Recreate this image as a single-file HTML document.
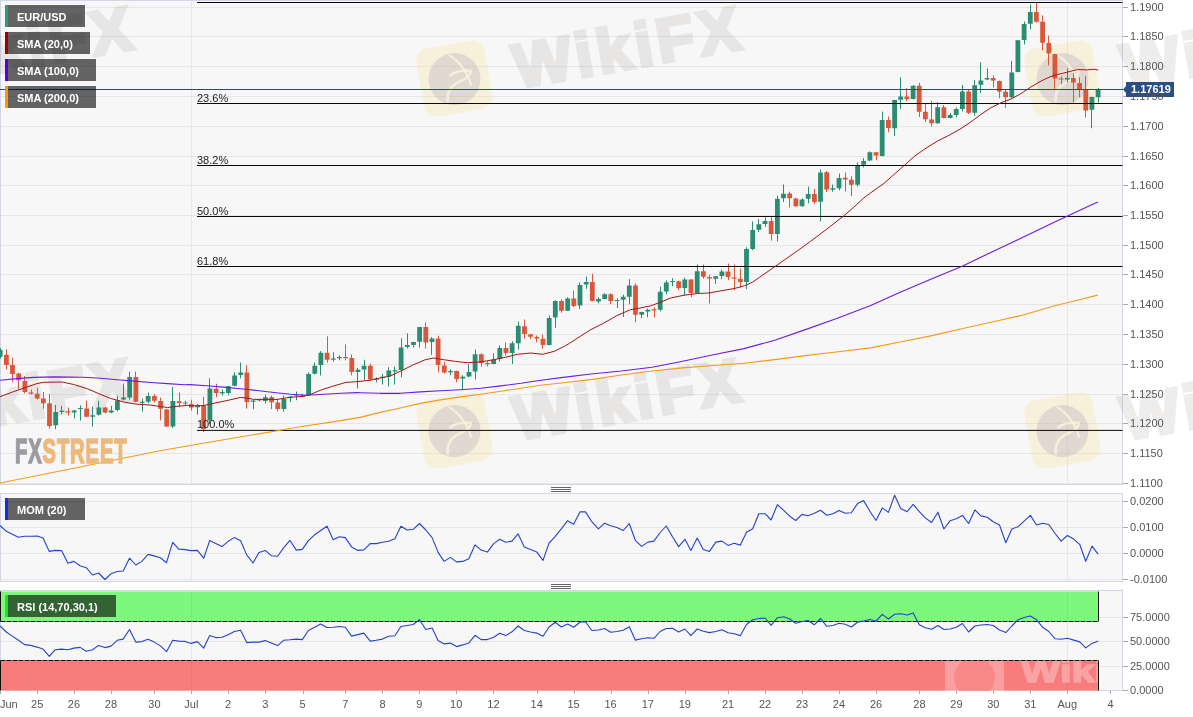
<!DOCTYPE html><html><head><meta charset="utf-8"><title>EUR/USD</title><style>
html,body{margin:0;padding:0;background:#fff}
body{width:1193px;height:717px;overflow:hidden;position:relative;font-family:"Liberation Sans",Arial,sans-serif}
.ax{position:absolute;left:1130px;font-size:11px;line-height:12px;color:#555;white-space:nowrap}
.dt{position:absolute;top:698px;font-size:11px;line-height:12px;color:#555;white-space:nowrap;transform:translateX(-50%)}
.fb{position:absolute;left:197px;font-size:11px;line-height:12px;color:#222;white-space:nowrap}
.lb{position:absolute;left:5px;height:22px;background:rgba(0,0,0,0.6);color:#fff;font-weight:bold;font-size:11px;line-height:22px;white-space:nowrap;box-sizing:border-box;padding-left:9px;padding-top:1px;border-left:3px solid #000}
.wm{position:absolute;width:0;height:0;transform:rotate(-10deg);white-space:nowrap;pointer-events:none}
.wm .sq{position:absolute;left:-35px;top:-35px;width:69px;height:69px;border-radius:12px;background:rgba(248,222,140,0.26)}
.wm .sq svg{position:absolute;left:0;top:0}
.wm .tx{position:absolute;left:60px;top:-41px;font-weight:bold;font-size:62px;line-height:80px;color:#8c7878;-webkit-text-stroke:4px #8c7878;opacity:0.135;letter-spacing:4.5px}

</style></head><body>
<svg width="1193" height="717" viewBox="0 0 1193 717" style="position:absolute;left:0;top:0">
<rect x="0.5" y="0.5" width="1122.0" height="484.0" fill="#f7f7f7" stroke="#d3d6e5" stroke-width="1"/>
<rect x="0.5" y="493.5" width="1122.0" height="88.0" fill="#f7f7f7" stroke="#d3d6e5" stroke-width="1"/>
<rect x="0.5" y="590.5" width="1122.0" height="100.0" fill="#f7f7f7" stroke="#d3d6e5" stroke-width="1"/>
<path d="M1 7.5H1122 M1 36.5H1122 M1 66.5H1122 M1 96.5H1122 M1 126.5H1122 M1 156.5H1122 M1 185.5H1122 M1 215.5H1122 M1 245.5H1122 M1 274.5H1122 M1 304.5H1122 M1 334.5H1122 M1 364.5H1122 M1 394.5H1122 M1 423.5H1122 M1 453.5H1122 M1 483.5H1122 M1 501.5H1122 M1 527.5H1122 M1 553.5H1122 M1 579.5H1122 M1 617.5H1122 M1 641.5H1122 M1 666.5H1122 M191.5 1.0V484.0 M191.5 494.0V581.0 M191.5 591.0V690.0 M1067.5 1.0V484.0 M1067.5 494.0V581.0 M1067.5 591.0V690.0" stroke="#e7e7e7" stroke-width="1" fill="none"/>
<path d="M1123 7.5h5 M1123 36.5h5 M1123 66.5h5 M1123 96.5h5 M1123 126.5h5 M1123 156.5h5 M1123 185.5h5 M1123 215.5h5 M1123 245.5h5 M1123 274.5h5 M1123 304.5h5 M1123 334.5h5 M1123 364.5h5 M1123 394.5h5 M1123 423.5h5 M1123 453.5h5 M1123 483.5h5 M1123 501.5h5 M1123 527.5h5 M1123 553.5h5 M1123 579.5h5 M1123 617.5h5 M1123 641.5h5 M1123 666.5h5 M1123 690.5h5 M0.5 691v3 M37.5 691v3 M74.5 691v3 M111.5 691v3 M154.5 691v3 M191.5 691v3 M228.5 691v3 M265.5 691v3 M303.5 691v3 M345.5 691v3 M382.5 691v3 M419.5 691v3 M456.5 691v3 M493.5 691v3 M537.5 691v3 M574.5 691v3 M611.5 691v3 M648.5 691v3 M685.5 691v3 M728.5 691v3 M765.5 691v3 M802.5 691v3 M839.5 691v3 M876.5 691v3 M919.5 691v3 M956.5 691v3 M993.5 691v3 M1030.5 691v3 M1067.5 691v3 M1110.5 691v3" stroke="#a8a8a8" stroke-width="1" fill="none"/>
</svg>
<div class="wm" style="left:-153px;top:78.5px"><div class="sq"><svg width="69" height="69" viewBox="0 0 69 69"><circle cx="34.5" cy="35" r="26" fill="rgba(150,135,175,0.22)"/><path d="M33 10Q47 22 50 44" stroke="rgba(250,242,220,0.85)" stroke-width="2.2" fill="none"/><path d="M24 57Q24 42 40 38Q50 36 52 30Q40 26 30 31" stroke="rgba(250,242,220,0.8)" stroke-width="2.6" fill="none"/></svg></div><div class="tx">WikiFX</div></div>
<div class="wm" style="left:-153px;top:430.5px"><div class="sq"><svg width="69" height="69" viewBox="0 0 69 69"><circle cx="34.5" cy="35" r="26" fill="rgba(150,135,175,0.22)"/><path d="M33 10Q47 22 50 44" stroke="rgba(250,242,220,0.85)" stroke-width="2.2" fill="none"/><path d="M24 57Q24 42 40 38Q50 36 52 30Q40 26 30 31" stroke="rgba(250,242,220,0.8)" stroke-width="2.6" fill="none"/></svg></div><div class="tx">WikiFX</div></div>
<div class="wm" style="left:455px;top:78.5px"><div class="sq"><svg width="69" height="69" viewBox="0 0 69 69"><circle cx="34.5" cy="35" r="26" fill="rgba(150,135,175,0.22)"/><path d="M33 10Q47 22 50 44" stroke="rgba(250,242,220,0.85)" stroke-width="2.2" fill="none"/><path d="M24 57Q24 42 40 38Q50 36 52 30Q40 26 30 31" stroke="rgba(250,242,220,0.8)" stroke-width="2.6" fill="none"/></svg></div><div class="tx">WikiFX</div></div>
<div class="wm" style="left:455px;top:430.5px"><div class="sq"><svg width="69" height="69" viewBox="0 0 69 69"><circle cx="34.5" cy="35" r="26" fill="rgba(150,135,175,0.22)"/><path d="M33 10Q47 22 50 44" stroke="rgba(250,242,220,0.85)" stroke-width="2.2" fill="none"/><path d="M24 57Q24 42 40 38Q50 36 52 30Q40 26 30 31" stroke="rgba(250,242,220,0.8)" stroke-width="2.6" fill="none"/></svg></div><div class="tx">WikiFX</div></div>
<div class="wm" style="left:1063px;top:78.5px"><div class="sq"><svg width="69" height="69" viewBox="0 0 69 69"><circle cx="34.5" cy="35" r="26" fill="rgba(150,135,175,0.22)"/><path d="M33 10Q47 22 50 44" stroke="rgba(250,242,220,0.85)" stroke-width="2.2" fill="none"/><path d="M24 57Q24 42 40 38Q50 36 52 30Q40 26 30 31" stroke="rgba(250,242,220,0.8)" stroke-width="2.6" fill="none"/></svg></div><div class="tx">WikiFX</div></div>
<div class="wm" style="left:1063px;top:430.5px"><div class="sq"><svg width="69" height="69" viewBox="0 0 69 69"><circle cx="34.5" cy="35" r="26" fill="rgba(150,135,175,0.22)"/><path d="M33 10Q47 22 50 44" stroke="rgba(250,242,220,0.85)" stroke-width="2.2" fill="none"/><path d="M24 57Q24 42 40 38Q50 36 52 30Q40 26 30 31" stroke="rgba(250,242,220,0.8)" stroke-width="2.6" fill="none"/></svg></div><div class="tx">WikiFX</div></div>
<svg width="1193" height="717" viewBox="0 0 1193 717" style="position:absolute;left:0;top:0">
<rect x="0.5" y="591.5" width="1098" height="30" fill="#7df87d" stroke="none"/>
<rect x="0.5" y="660.5" width="1098" height="30" fill="#f87c7c" stroke="none"/>
<path d="M0.5 591.5V621.5M1098.5 591.5V621.5M0.5 660.5V690.5M1098.5 660.5V690.5" stroke="#111" stroke-width="1" fill="none"/>
<path d="M0.5 621.5H1098.5M0.5 660.5H1098.5" stroke="#111" stroke-width="1.2" stroke-dasharray="5 1" fill="none"/>
<path d="M191.5 592V621M1067.5 592V621" stroke="#74ea74" stroke-width="1" fill="none"/>
<path d="M191.5 661V690M1067.5 661V690" stroke="#ee7575" stroke-width="1" fill="none"/>
<path d="M0.5 348.1V358.5 M55.5 404.9V429.2 M61.5 405.8V414.3 M74.5 410.1V418.5 M80.5 405.4V420.5 M92.5 406.8V426.7 M98.5 400.7V415.5 M111.5 405.8V413.3 M117.5 395.7V411.3 M123.5 383.6V400.4 M129.5 371.6V399.6 M142.5 398.7V411.6 M148.5 392.5V403.3 M172.5 387.0V428.1 M185.5 400.9V404.9 M197.5 403.9V414.8 M209.5 378.4V424.0 M222.5 389.6V395.5 M228.5 385.8V395.2 M234.5 372.4V386.3 M240.5 362.5V378.4 M253.5 400.2V409.2 M265.5 394.7V403.4 M283.5 395.5V411.4 M290.5 396.3V402.2 M296.5 391.6V400.2 M308.5 372.4V395.8 M314.5 362.5V374.5 M320.5 351.1V375.4 M333.5 352.2V361.6 M339.5 355.3V360.3 M357.5 367.8V388.5 M364.5 359.8V380.1 M376.5 377.4V382.4 M382.5 373.9V384.5 M388.5 367.2V386.5 M394.5 366.4V384.5 M401.5 338.4V377.3 M407.5 333.4V348.5 M413.5 341.8V347.5 M419.5 327.0V347.5 M431.5 337.1V354.7 M450.5 369.2V375.3 M462.5 375.3V390.0 M468.5 364.2V377.3 M475.5 349.6V379.5 M493.5 353.3V364.2 M499.5 345.4V361.4 M512.5 341.2V363.9 M518.5 321.5V349.6 M549.5 315.3V345.4 M555.5 300.2V327.8 M567.5 297.3V311.1 M579.5 282.4V309.2 M586.5 276.6V288.8 M598.5 297.2V303.5 M604.5 293.3V299.2 M617.5 298.3V308.1 M623.5 294.7V317.0 M629.5 279.2V304.2 M641.5 311.8V318.1 M647.5 308.6V317.3 M660.5 286.8V311.4 M666.5 280.4V294.3 M672.5 278.2V286.3 M684.5 277.6V295.5 M697.5 264.5V293.5 M715.5 275.9V283.8 M721.5 269.5V279.2 M746.5 247.2V289.1 M752.5 221.4V250.2 M758.5 219.2V232.1 M765.5 217.5V226.9 M777.5 195.7V241.5 M783.5 184.5V202.1 M802.5 198.4V206.8 M808.5 186.7V203.3 M820.5 169.4V221.4 M832.5 184.5V191.7 M839.5 173.6V190.4 M857.5 162.7V186.5 M863.5 158.1V167.4 M869.5 151.4V161.0 M882.5 111.7V156.5 M894.5 99.8V136.0 M900.5 77.3V109.0 M913.5 85.2V99.5 M937.5 102.0V123.8 M950.5 112.9V118.4 M956.5 107.5V117.1 M962.5 85.0V111.5 M974.5 80.1V115.7 M980.5 62.4V93.0 M987.5 68.4V80.1 M1011.5 60.9V98.6 M1017.5 39.9V72.4 M1024.5 21.5V44.4 M1030.5 4.5V29.3 M1067.5 68.4V82.5 M1091.5 96.7V128.2 M1098.5 88.0V102.6" stroke="#2a8c73" stroke-width="1" fill="none"/>
<path d="M6.5 349.3V369.4 M12.5 357.7V382.0 M18.5 372.7V388.7 M24.5 376.1V393.4 M31.5 389.5V394.5 M37.5 387.8V399.6 M43.5 392.0V408.8 M49.5 393.7V428.6 M68.5 407.6V415.5 M86.5 400.7V417.2 M105.5 406.8V413.3 M135.5 371.6V402.4 M154.5 394.2V402.4 M160.5 397.6V420.5 M166.5 408.8V426.9 M179.5 392.5V407.1 M191.5 399.7V410.6 M203.5 396.8V432.2 M216.5 383.8V397.2 M246.5 365.3V408.6 M259.5 398.9V401.4 M271.5 395.5V409.2 M277.5 398.9V411.4 M302.5 393.8V397.2 M327.5 336.3V362.5 M345.5 344.4V360.3 M351.5 354.4V375.4 M370.5 363.6V380.4 M425.5 322.5V348.5 M438.5 335.7V372.3 M444.5 361.9V373.6 M456.5 370.6V382.3 M481.5 353.3V366.7 M487.5 361.4V366.4 M505.5 342.4V355.5 M524.5 319.5V338.7 M530.5 334.0V339.1 M536.5 335.4V342.4 M542.5 334.5V348.8 M561.5 299.3V312.7 M573.5 290.5V307.2 M592.5 273.7V301.4 M610.5 293.3V304.2 M635.5 283.3V322.3 M654.5 307.2V317.3 M678.5 280.7V290.1 M691.5 279.2V297.2 M703.5 264.5V278.7 M709.5 274.5V303.5 M728.5 263.6V280.1 M734.5 264.5V290.1 M740.5 268.7V287.5 M771.5 217.2V240.6 M789.5 191.7V207.5 M795.5 197.6V206.8 M814.5 188.7V204.1 M826.5 171.1V192.0 M845.5 172.4V191.2 M851.5 176.1V196.2 M876.5 151.9V160.3 M888.5 116.7V132.1 M906.5 88.2V101.1 M919.5 82.7V117.1 M925.5 103.3V122.1 M931.5 100.8V126.3 M943.5 105.0V118.4 M968.5 89.2V114.0 M993.5 75.4V87.5 M999.5 80.5V98.1 M1005.5 88.9V107.8 M1036.5 3.0V22.6 M1042.5 15.4V50.3 M1048.5 35.5V65.4 M1054.5 53.6V88.9 M1061.5 76.3V84.2 M1073.5 73.3V102.6 M1079.5 77.5V97.2 M1085.5 75.8V117.4" stroke="#d9573b" stroke-width="1" fill="none"/>
<path d="M-2.2 350.1h4.8V356.8h-4.8z M53.3 412.1h4.8V425.2h-4.8z M59.5 410.7h4.8V411.9h-4.8z M71.8 410.5h4.8V412.5h-4.8z M78.0 407.9h4.8V409.1h-4.8z M90.3 415.2h4.8V416.8h-4.8z M96.5 407.5h4.8V414.7h-4.8z M108.8 410.5h4.8V412.6h-4.8z M115.0 400.4h4.8V410.1h-4.8z M121.2 397.6h4.8V399.6h-4.8z M127.3 376.9h4.8V397.6h-4.8z M139.7 401.7h4.8V402.9h-4.8z M145.8 395.9h4.8V401.8h-4.8z M170.5 400.9h4.8V426.4h-4.8z M182.8 402.4h4.8V403.6h-4.8z M195.2 405.2h4.8V407.2h-4.8z M207.5 388.5h4.8V420.6h-4.8z M219.8 392.0h4.8V393.2h-4.8z M226.0 386.3h4.8V393.0h-4.8z M232.2 375.4h4.8V385.8h-4.8z M238.4 372.4h4.8V375.0h-4.8z M250.7 400.5h4.8V401.7h-4.8z M263.0 397.2h4.8V400.9h-4.8z M281.5 398.9h4.8V408.9h-4.8z M287.7 396.7h4.8V397.9h-4.8z M293.9 394.3h4.8V395.5h-4.8z M306.2 374.0h4.8V395.2h-4.8z M312.4 365.8h4.8V373.7h-4.8z M318.5 352.7h4.8V365.0h-4.8z M330.9 358.6h4.8V359.8h-4.8z M337.0 356.9h4.8V358.3h-4.8z M355.5 369.8h4.8V372.0h-4.8z M361.7 365.7h4.8V369.5h-4.8z M374.0 378.6h4.8V379.8h-4.8z M380.2 376.7h4.8V377.9h-4.8z M386.4 370.6h4.8V376.5h-4.8z M392.6 370.2h4.8V371.4h-4.8z M398.7 347.5h4.8V370.1h-4.8z M404.9 345.1h4.8V347.1h-4.8z M411.1 342.1h4.8V344.9h-4.8z M417.2 327.0h4.8V341.8h-4.8z M429.6 338.4h4.8V342.1h-4.8z M448.1 370.9h4.8V372.3h-4.8z M460.4 376.8h4.8V378.6h-4.8z M466.6 371.9h4.8V376.5h-4.8z M472.7 354.2h4.8V371.4h-4.8z M491.2 359.4h4.8V363.9h-4.8z M497.4 348.0h4.8V358.9h-4.8z M509.7 343.3h4.8V353.0h-4.8z M515.9 325.8h4.8V343.3h-4.8z M546.8 318.1h4.8V345.1h-4.8z M552.9 301.0h4.8V317.4h-4.8z M565.3 298.5h4.8V310.7h-4.8z M577.6 285.1h4.8V305.6h-4.8z M583.8 282.1h4.8V284.6h-4.8z M596.1 298.9h4.8V301.4h-4.8z M602.3 294.3h4.8V298.9h-4.8z M614.6 299.9h4.8V301.1h-4.8z M620.8 296.8h4.8V299.7h-4.8z M626.9 285.4h4.8V296.7h-4.8z M639.3 311.9h4.8V314.8h-4.8z M645.4 309.7h4.8V311.4h-4.8z M657.8 291.8h4.8V309.7h-4.8z M663.9 282.4h4.8V291.6h-4.8z M670.1 280.9h4.8V282.1h-4.8z M682.4 279.6h4.8V288.0h-4.8z M694.8 271.2h4.8V293.0h-4.8z M713.3 276.2h4.8V278.7h-4.8z M719.5 271.5h4.8V275.9h-4.8z M744.1 248.9h4.8V282.1h-4.8z M750.3 230.1h4.8V248.9h-4.8z M756.5 224.2h4.8V229.8h-4.8z M762.6 221.0h4.8V223.9h-4.8z M775.0 198.7h4.8V233.9h-4.8z M781.1 193.7h4.8V198.2h-4.8z M799.6 199.6h4.8V206.3h-4.8z M805.8 194.0h4.8V198.7h-4.8z M818.1 172.4h4.8V201.8h-4.8z M830.5 188.3h4.8V189.8h-4.8z M836.6 178.1h4.8V188.2h-4.8z M855.2 165.5h4.8V184.8h-4.8z M861.3 161.0h4.8V164.8h-4.8z M867.5 152.3h4.8V160.6h-4.8z M879.8 120.1h4.8V156.0h-4.8z M892.2 100.1h4.8V128.3h-4.8z M898.3 96.4h4.8V99.8h-4.8z M910.7 85.7h4.8V99.0h-4.8z M935.3 107.3h4.8V123.3h-4.8z M947.7 115.0h4.8V117.9h-4.8z M953.8 109.0h4.8V114.9h-4.8z M960.0 91.4h4.8V109.0h-4.8z M972.3 85.2h4.8V112.7h-4.8z M978.5 80.5h4.8V84.7h-4.8z M984.7 78.0h4.8V79.6h-4.8z M1009.4 72.4h4.8V97.2h-4.8z M1015.5 40.2h4.8V72.1h-4.8z M1021.7 24.0h4.8V39.9h-4.8z M1027.9 12.1h4.8V23.8h-4.8z M1064.9 78.0h4.8V79.6h-4.8z M1089.5 96.9h4.8V109.8h-4.8z M1095.7 89.7h4.8V97.2h-4.8z" fill="#2a8c73"/>
<path d="M4.0 354.8h4.8V364.9h-4.8z M10.1 364.9h4.8V373.9h-4.8z M16.3 373.6h4.8V380.3h-4.8z M22.5 381.1h4.8V392.0h-4.8z M28.6 392.4h4.8V393.7h-4.8z M34.8 393.7h4.8V398.4h-4.8z M41.0 398.4h4.8V403.3h-4.8z M47.1 403.3h4.8V425.9h-4.8z M65.6 411.3h4.8V412.5h-4.8z M84.2 408.5h4.8V416.8h-4.8z M102.7 407.6h4.8V412.6h-4.8z M133.5 376.9h4.8V401.8h-4.8z M152.0 395.9h4.8V400.7h-4.8z M158.2 400.9h4.8V408.8h-4.8z M164.3 409.6h4.8V426.4h-4.8z M176.7 401.2h4.8V402.9h-4.8z M189.0 403.9h4.8V407.6h-4.8z M201.3 405.6h4.8V429.2h-4.8z M213.7 388.8h4.8V393.0h-4.8z M244.5 372.4h4.8V401.9h-4.8z M256.9 399.3h4.8V400.5h-4.8z M269.2 397.2h4.8V402.2h-4.8z M275.4 402.5h4.8V408.9h-4.8z M300.0 395.2h4.8V396.5h-4.8z M324.7 352.7h4.8V359.8h-4.8z M343.2 356.9h4.8V358.3h-4.8z M349.4 358.1h4.8V372.0h-4.8z M367.9 365.7h4.8V379.6h-4.8z M423.4 327.0h4.8V342.4h-4.8z M435.7 338.4h4.8V365.1h-4.8z M441.9 365.6h4.8V372.6h-4.8z M454.2 371.1h4.8V379.0h-4.8z M478.9 354.2h4.8V363.0h-4.8z M485.1 363.1h4.8V364.3h-4.8z M503.6 348.0h4.8V353.0h-4.8z M522.1 326.2h4.8V334.0h-4.8z M528.2 334.2h4.8V336.7h-4.8z M534.4 337.1h4.8V338.4h-4.8z M540.6 338.7h4.8V344.9h-4.8z M559.1 301.0h4.8V310.7h-4.8z M571.4 298.5h4.8V305.9h-4.8z M589.9 282.1h4.8V300.9h-4.8z M608.4 294.3h4.8V300.9h-4.8z M633.1 285.4h4.8V314.8h-4.8z M651.6 309.3h4.8V310.5h-4.8z M676.3 281.2h4.8V288.0h-4.8z M688.6 279.6h4.8V293.0h-4.8z M701.0 271.2h4.8V276.7h-4.8z M707.1 277.1h4.8V278.4h-4.8z M725.6 271.5h4.8V277.1h-4.8z M731.8 277.5h4.8V278.7h-4.8z M738.0 278.7h4.8V282.1h-4.8z M768.8 221.0h4.8V233.9h-4.8z M787.3 193.4h4.8V198.2h-4.8z M793.5 198.4h4.8V206.3h-4.8z M812.0 194.0h4.8V202.1h-4.8z M824.3 172.2h4.8V189.5h-4.8z M842.8 177.8h4.8V179.5h-4.8z M849.0 179.8h4.8V184.8h-4.8z M873.7 152.3h4.8V155.6h-4.8z M886.0 120.1h4.8V128.0h-4.8z M904.5 96.4h4.8V99.0h-4.8z M916.8 85.7h4.8V111.7h-4.8z M923.0 111.7h4.8V119.2h-4.8z M929.2 119.6h4.8V123.3h-4.8z M941.5 107.3h4.8V117.9h-4.8z M966.2 91.4h4.8V112.7h-4.8z M990.8 78.0h4.8V80.5h-4.8z M997.0 81.0h4.8V91.4h-4.8z M1003.2 91.7h4.8V97.2h-4.8z M1034.0 12.1h4.8V21.8h-4.8z M1040.2 21.8h4.8V42.7h-4.8z M1046.4 43.1h4.8V53.6h-4.8z M1052.5 54.0h4.8V78.5h-4.8z M1058.7 78.4h4.8V79.6h-4.8z M1071.0 78.0h4.8V82.5h-4.8z M1077.2 83.0h4.8V88.9h-4.8z M1083.4 89.2h4.8V110.6h-4.8z" fill="#d9573b"/>
<path d="M197 2.5H1122.5" stroke="#0a0a0a" stroke-width="1" fill="none"/>
<path d="M197 103.5H1122.5" stroke="#0a0a0a" stroke-width="1" fill="none"/>
<path d="M197 165.5H1122.5" stroke="#0a0a0a" stroke-width="1" fill="none"/>
<path d="M197 216.5H1122.5" stroke="#0a0a0a" stroke-width="1" fill="none"/>
<path d="M197 266.5H1122.5" stroke="#0a0a0a" stroke-width="1" fill="none"/>
<path d="M197 430.4H1122.5" stroke="#0a0a0a" stroke-width="1" fill="none"/>
<path d="M0 89.5H1123" stroke="#2d4a70" stroke-width="1" fill="none"/>
<path d="M0.0 483.0 L80.0 467.0 L160.0 450.8 L180.0 447.3 L200.0 443.8 L240.0 437.0 L277.2 430.7 L300.0 426.7 L340.9 420.6 L360.0 417.4 L380.1 412.4 L400.2 408.0 L420.3 403.4 L440.5 399.9 L460.6 396.9 L480.7 394.3 L500.8 391.3 L520.9 388.3 L541.0 385.3 L561.2 383.0 L590.7 379.6 L621.3 375.0 L652.0 371.0 L682.7 367.9 L713.4 365.5 L744.0 363.3 L774.7 359.6 L805.4 355.6 L836.0 352.0 L870.7 347.9 L901.3 341.7 L932.0 335.6 L962.7 328.5 L993.4 321.8 L1024.0 314.7 L1054.7 305.8 L1079.3 299.7 L1097.7 295.1" stroke="#f59a1c" stroke-width="1.15" fill="none" stroke-linejoin="round"/>
<path d="M0.0 380.3 L16.8 378.6 L33.5 377.4 L55.3 376.9 L83.8 377.3 L100.6 378.3 L117.4 379.8 L134.1 381.1 L150.9 382.5 L167.6 383.6 L184.4 384.7 L190.0 384.6 L206.8 385.8 L223.5 387.1 L240.3 388.8 L257.1 390.5 L273.8 392.5 L290.6 394.2 L307.4 395.2 L324.1 394.2 L340.9 393.3 L357.6 392.6 L360.0 392.7 L380.1 393.3 L400.2 393.3 L420.3 391.9 L440.5 390.7 L460.6 389.7 L480.7 388.3 L500.8 385.9 L520.9 383.3 L541.0 380.2 L561.2 377.6 L590.7 374.0 L621.3 371.0 L652.0 367.3 L682.7 361.2 L713.4 354.7 L744.0 348.6 L774.7 340.3 L805.4 329.6 L836.0 318.8 L840.0 317.2 L870.7 305.5 L901.3 291.7 L932.0 278.8 L962.7 266.0 L993.4 251.2 L1024.0 236.8 L1054.7 222.1 L1079.3 210.4 L1097.7 202.1" stroke="#6a1fe0" stroke-width="1.15" fill="none" stroke-linejoin="round"/>
<path d="M0.0 396.7 L12.6 392.0 L24.6 387.8 L36.9 383.6 L43.6 382.3 L62.0 382.0 L73.8 384.5 L87.2 388.7 L98.9 393.7 L110.6 398.4 L124.1 402.1 L135.8 404.1 L150.9 405.1 L160.9 406.6 L167.6 407.5 L177.7 406.3 L187.8 405.3 L190.0 405.9 L203.4 405.6 L215.1 403.0 L228.6 400.2 L240.3 397.5 L247.0 398.0 L253.7 399.4 L265.4 399.4 L277.2 399.4 L290.6 397.2 L304.0 396.3 L310.7 394.3 L320.8 390.1 L332.5 386.3 L345.9 382.4 L357.6 381.6 L371.1 380.1 L379.4 378.2 L390.1 376.0 L401.8 370.6 L413.5 364.7 L425.3 359.7 L433.6 358.0 L443.7 359.7 L455.4 361.4 L467.2 362.7 L480.6 361.9 L494.0 359.7 L505.7 357.2 L517.5 354.3 L530.9 353.0 L542.6 354.3 L554.4 351.3 L564.4 346.3 L569.4 343.4 L590.1 330.0 L603.5 323.2 L616.9 315.6 L630.4 309.7 L637.1 308.6 L650.5 305.9 L660.5 302.2 L670.6 298.0 L684.0 295.2 L697.4 293.5 L709.1 293.0 L720.9 290.8 L734.3 288.5 L744.4 285.8 L752.7 282.1 L759.4 277.4 L798.6 250.0 L810.3 241.5 L827.1 228.9 L843.8 215.8 L853.9 207.1 L863.9 197.9 L874.0 190.4 L884.1 183.3 L894.1 174.4 L904.2 165.5 L914.2 156.5 L924.3 149.3 L937.7 140.9 L947.8 135.9 L960.0 129.2 L970.7 122.1 L980.8 114.5 L990.8 107.8 L1000.9 102.8 L1010.9 99.1 L1021.0 93.6 L1031.1 86.9 L1041.1 81.0 L1050.0 76.8 L1057.2 74.6 L1067.3 72.1 L1077.4 69.6 L1087.4 69.9 L1094.1 69.2 L1098.3 70.1" stroke="#a31616" stroke-width="1.0" fill="none" stroke-linejoin="round"/>
<path d="M0.0 525.5 L6.3 531.3 L12.3 534.3 L18.4 537.3 L24.6 536.3 L30.7 536.3 L37.0 536.0 L43.0 538.1 L49.3 551.4 L55.3 550.4 L61.6 550.6 L67.9 563.2 L73.9 561.4 L80.0 565.7 L86.2 567.7 L92.5 575.0 L98.6 573.0 L104.9 579.5 L110.9 573.8 L117.2 571.5 L123.2 571.0 L129.5 558.2 L135.8 565.0 L141.8 561.4 L148.1 554.4 L154.1 555.9 L160.4 557.7 L166.5 562.7 L172.7 542.3 L178.8 549.1 L185.1 549.6 L191.1 550.6 L197.4 550.4 L203.7 558.2 L209.7 540.6 L215.7 543.6 L222.0 546.6 L228.1 541.3 L234.3 537.6 L240.6 540.8 L246.7 554.9 L253.0 563.0 L259.0 552.4 L265.3 550.4 L271.3 555.7 L277.6 556.2 L283.6 547.9 L289.9 540.3 L296.3 550.1 L302.3 549.4 L308.4 540.6 L314.6 534.8 L320.7 530.5 L327.0 526.2 L333.2 539.8 L339.3 536.8 L345.3 537.6 L351.6 546.9 L357.9 550.4 L363.9 549.9 L370.2 543.6 L376.2 543.6 L382.5 542.3 L388.6 541.3 L394.9 538.8 L400.9 526.2 L407.2 530.0 L413.2 529.3 L419.5 523.5 L425.8 530.0 L432.1 537.6 L438.1 552.4 L444.1 561.4 L450.4 557.4 L456.5 561.9 L462.7 561.4 L468.8 558.7 L475.1 544.8 L481.1 550.1 L487.4 552.1 L493.7 543.6 L499.7 539.3 L505.7 542.3 L512.0 541.1 L518.1 533.8 L524.3 547.1 L530.6 549.6 L536.7 551.9 L543.0 560.4 L549.0 543.1 L555.3 536.3 L561.3 528.8 L567.6 520.7 L573.6 524.2 L579.9 511.9 L585.5 511.9 L591.8 521.7 L598.4 528.8 L604.6 523.2 L610.7 525.7 L617.0 527.5 L623.2 530.5 L629.3 523.7 L635.3 540.3 L641.6 546.4 L647.9 542.1 L653.9 541.1 L660.2 532.5 L666.2 526.0 L672.5 536.8 L678.6 546.6 L684.9 539.3 L690.9 550.4 L697.2 538.1 L703.2 549.4 L709.5 551.4 L715.8 542.1 L721.8 541.1 L728.1 545.4 L734.1 543.3 L740.4 545.1 L746.5 532.3 L752.7 528.8 L758.8 513.7 L765.1 513.7 L771.1 520.0 L777.4 504.6 L783.7 510.4 L789.7 516.2 L795.7 520.5 L802.0 514.4 L808.1 515.7 L814.3 513.2 L820.6 510.2 L826.7 515.2 L833.0 513.7 L839.0 510.4 L845.3 513.2 L851.3 512.7 L857.6 503.6 L863.6 500.6 L869.9 511.2 L876.0 520.5 L882.3 507.9 L888.4 512.4 L894.6 495.3 L900.7 508.4 L907.0 511.7 L913.2 504.4 L919.3 511.7 L925.3 517.9 L931.6 522.5 L937.9 512.2 L943.9 529.0 L950.2 520.7 L956.2 518.7 L962.5 515.4 L968.6 523.5 L974.9 509.9 L980.9 515.9 L987.2 517.2 L993.2 521.7 L999.5 525.0 L1005.8 542.8 L1011.8 529.0 L1018.1 526.7 L1024.1 521.2 L1030.4 515.4 L1036.5 525.0 L1042.7 523.2 L1048.8 524.5 L1055.1 533.5 L1061.1 541.1 L1067.4 535.5 L1073.7 539.1 L1079.7 544.3 L1085.7 561.2 L1092.0 546.1 L1098.1 554.2" stroke="#2444c8" stroke-width="1.1" fill="none" stroke-linejoin="round"/>
<path d="M0.0 626.0 L6.3 632.0 L12.3 636.1 L18.4 640.3 L24.6 644.6 L30.7 645.4 L37.0 647.1 L43.0 649.1 L49.3 656.4 L55.3 649.7 L61.6 649.1 L67.9 649.7 L73.9 648.1 L80.2 647.4 L86.2 651.2 L92.5 649.7 L98.6 645.4 L104.9 647.6 L110.9 646.1 L117.2 640.3 L123.2 639.1 L129.5 629.5 L135.8 642.1 L141.8 641.6 L148.1 639.3 L154.1 642.1 L160.4 645.9 L166.5 651.7 L172.7 640.3 L178.8 641.1 L185.1 641.4 L191.1 643.4 L197.4 641.6 L203.7 648.1 L209.7 635.6 L215.7 637.6 L222.0 637.3 L228.1 634.8 L234.3 631.5 L240.6 630.3 L246.7 642.6 L253.0 642.1 L259.0 642.1 L265.3 640.6 L271.3 642.9 L277.6 645.6 L283.6 640.3 L289.9 639.8 L296.3 639.1 L302.3 639.6 L308.4 630.5 L314.6 627.3 L320.7 624.0 L327.0 627.5 L333.2 627.3 L339.3 626.5 L345.3 627.3 L351.6 636.1 L357.9 634.6 L363.9 633.1 L370.2 641.1 L376.2 640.3 L382.5 639.1 L388.6 636.3 L394.9 635.8 L400.9 626.5 L407.2 625.5 L413.2 624.5 L419.5 619.7 L425.8 629.5 L432.1 628.0 L438.1 640.6 L444.1 643.9 L450.4 643.1 L456.5 646.6 L462.7 644.9 L468.8 642.9 L475.1 635.3 L481.1 639.6 L487.4 639.6 L493.7 637.3 L499.7 633.3 L505.7 635.6 L512.0 631.8 L518.1 626.0 L524.3 630.5 L530.6 632.0 L536.7 633.1 L543.0 636.3 L549.0 627.0 L555.3 622.2 L561.3 627.0 L567.6 624.0 L573.6 627.3 L579.9 622.2 L585.5 621.7 L591.8 630.5 L598.4 630.0 L604.6 628.5 L610.7 632.3 L617.0 631.5 L623.2 630.3 L629.3 626.8 L635.3 640.1 L641.6 638.8 L647.9 637.8 L653.9 638.3 L660.2 631.5 L666.2 628.5 L672.5 628.3 L678.6 632.0 L684.9 629.0 L690.9 635.6 L697.2 629.0 L703.2 631.3 L709.5 632.6 L715.8 631.5 L721.8 629.8 L728.1 632.8 L734.1 633.8 L740.4 635.6 L746.5 624.5 L752.7 619.7 L758.8 618.5 L765.1 618.0 L771.1 625.3 L777.4 617.7 L783.7 616.7 L789.7 619.0 L795.7 623.2 L802.0 621.5 L808.1 620.5 L814.3 624.8 L820.6 618.5 L826.7 626.3 L833.0 625.5 L839.0 623.2 L845.3 624.3 L851.3 627.0 L857.6 622.2 L863.6 621.0 L869.9 619.5 L876.0 621.0 L882.3 614.4 L888.4 619.0 L894.6 614.2 L900.7 613.7 L907.0 615.0 L913.2 612.9 L919.3 624.8 L925.3 627.8 L931.6 629.3 L937.9 625.5 L943.9 629.5 L950.2 629.0 L956.2 627.3 L962.5 623.5 L968.6 632.0 L974.9 626.0 L980.9 625.0 L987.2 624.5 L993.2 625.5 L999.5 630.0 L1005.8 632.6 L1011.8 626.0 L1018.1 619.7 L1024.1 617.5 L1030.4 616.0 L1036.5 619.7 L1042.7 627.3 L1048.8 631.5 L1055.1 638.8 L1061.1 639.3 L1067.4 638.3 L1073.7 640.1 L1079.7 641.9 L1085.7 647.9 L1092.0 643.4 L1098.1 641.1" stroke="#2444c8" stroke-width="1.1" fill="none" stroke-linejoin="round"/>
<path d="M551 487.5h20M551 489.5h20M551 491.5h20" stroke="#666" stroke-width="1" fill="none"/>
<path d="M551 584.5h20M551 586.5h20M551 588.5h20" stroke="#666" stroke-width="1" fill="none"/>
<path d="M1123 89.5L1126 86V82H1174V97H1126V93Z" fill="#2c4f82"/>
</svg>
<div style="position:absolute;left:0;top:661px;width:1098px;height:30px;overflow:hidden">
<div style="position:absolute;left:945px;top:-13px;width:59px;height:59px;border-radius:10px;background:rgba(255,255,255,0.27)"><div style="position:absolute;left:9px;top:9px;width:41px;height:41px;border-radius:50%;background:rgba(248,124,124,0.6)"></div></div>
<div style="position:absolute;left:1021px;top:-8px;font-weight:bold;font-size:32px;line-height:36px;color:#fff;-webkit-text-stroke:1.5px #fff;opacity:0.3;white-space:nowrap;transform:scaleX(1.3);transform-origin:0 0">WikiFX</div>
</div>
<div class="ax" style="top:1px">1.1900</div>
<div class="ax" style="top:30px">1.1850</div>
<div class="ax" style="top:60px">1.1800</div>
<div class="ax" style="top:90px">1.1750</div>
<div class="ax" style="top:120px">1.1700</div>
<div class="ax" style="top:150px">1.1650</div>
<div class="ax" style="top:179px">1.1600</div>
<div class="ax" style="top:209px">1.1550</div>
<div class="ax" style="top:239px">1.1500</div>
<div class="ax" style="top:268px">1.1450</div>
<div class="ax" style="top:298px">1.1400</div>
<div class="ax" style="top:328px">1.1350</div>
<div class="ax" style="top:358px">1.1300</div>
<div class="ax" style="top:388px">1.1250</div>
<div class="ax" style="top:417px">1.1200</div>
<div class="ax" style="top:447px">1.1150</div>
<div class="ax" style="top:477px">1.1100</div>
<div class="ax" style="top:495px">0.0200</div>
<div class="ax" style="top:521px">0.0100</div>
<div class="ax" style="top:547px">0.0000</div>
<div class="ax" style="top:573px">-0.0100</div>
<div class="ax" style="top:611px">75.0000</div>
<div class="ax" style="top:635px">50.0000</div>
<div class="ax" style="top:660px">25.0000</div>
<div class="ax" style="top:684px">0.0000</div>
<div style="position:absolute;left:1131px;top:83px;font-size:11px;line-height:13px;font-weight:bold;color:#fff">1.17619</div>
<div class="dt" style="left:0;transform:none">Jun</div>
<div class="dt" style="left:37.2px">25</div>
<div class="dt" style="left:73.9px">26</div>
<div class="dt" style="left:110.9px">28</div>
<div class="dt" style="left:154.4px">30</div>
<div class="dt" style="left:191.4px">Jul</div>
<div class="dt" style="left:228.0px">2</div>
<div class="dt" style="left:265.3px">3</div>
<div class="dt" style="left:302.6px">5</div>
<div class="dt" style="left:345.3px">7</div>
<div class="dt" style="left:382.5px">8</div>
<div class="dt" style="left:419.2px">9</div>
<div class="dt" style="left:456.2px">10</div>
<div class="dt" style="left:493.4px">12</div>
<div class="dt" style="left:536.7px">14</div>
<div class="dt" style="left:573.6px">15</div>
<div class="dt" style="left:610.6px">16</div>
<div class="dt" style="left:647.8px">17</div>
<div class="dt" style="left:684.8px">19</div>
<div class="dt" style="left:728.0px">21</div>
<div class="dt" style="left:765.0px">22</div>
<div class="dt" style="left:802.0px">23</div>
<div class="dt" style="left:838.9px">24</div>
<div class="dt" style="left:876.1px">26</div>
<div class="dt" style="left:919.4px">28</div>
<div class="dt" style="left:956.4px">29</div>
<div class="dt" style="left:993.3px">30</div>
<div class="dt" style="left:1030.3px">31</div>
<div class="dt" style="left:1067.3px">Aug</div>
<div class="dt" style="left:1110.5px">4</div>
<div class="fb" style="top:91.5px">23.6%</div>
<div class="fb" style="top:153.5px">38.2%</div>
<div class="fb" style="top:204.5px">50.0%</div>
<div class="fb" style="top:254.5px">61.8%</div>
<div class="fb" style="top:418.4px">100.0%</div>
<div class="lb" style="top:5px;width:80px;border-left-color:#2a9d7e">EUR/USD</div>
<div class="lb" style="top:32px;width:85px;border-left-color:#a00000">SMA (20,0)</div>
<div class="lb" style="top:59px;width:91px;border-left-color:#5a00e0">SMA (100,0)</div>
<div class="lb" style="top:86px;width:91px;border-left-color:#ff9800">SMA (200,0)</div>
<div class="lb" style="top:498px;width:80px;border-left-color:#1030e0">MOM (20)</div>
<div class="lb" style="top:595px;width:111px;border-left-color:#22e022">RSI (14,70,30,1)</div>
<div style="position:absolute;left:15px;top:430.5px;font-weight:bold;font-size:34.5px;line-height:40px;white-space:nowrap;transform:scaleX(0.585);transform-origin:0 0;letter-spacing:1.5px;-webkit-text-stroke-width:1.6px"><span style="color:#9b9ba1">FX</span><span style="color:#ecb97c">STREET</span></div>
</body></html>
